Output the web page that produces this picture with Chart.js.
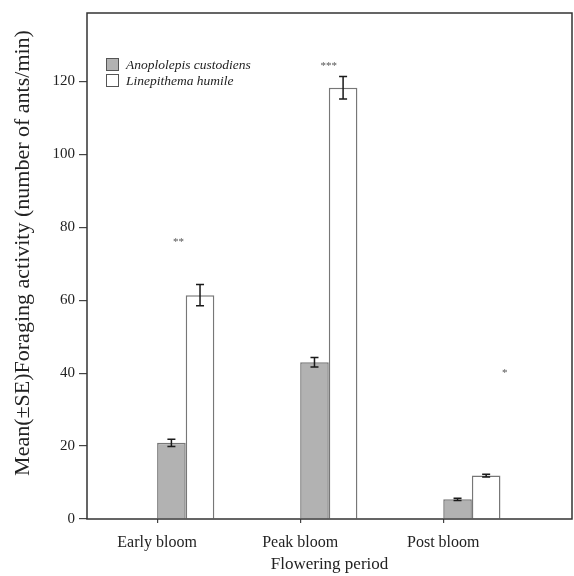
<!DOCTYPE html>
<html>
<head>
<meta charset="utf-8">
<script src="https://cdn.jsdelivr.net/npm/chart.js@4/dist/chart.umd.min.js"></script>
<style>
  html,body{margin:0;padding:0;background:#fff;}
  #wrap{width:574px;height:576px;}
</style>
</head>
<body>
<div id="wrap"><canvas id="c" width="574" height="576"></canvas></div>
<script>
// periods + series
const periods   = ['Early bloom', 'Peak bloom', 'Post bloom'];
const seriesA   = 'Anoplolepis custodiens';
const seriesB   = 'Linepithema humile';
const meanA     = [20.9, 43.0, 5.4];
const seA       = [1.0, 1.3, 0.3];
const meanB     = [61.4, 118.3, 11.9];
const seB       = [2.9, 3.1, 0.4];
const sigLabels = ['**', '***', '*'];
const sigX      = [0.15, 1.2, 2.43];
const sigY      = [75.9, 124.1, 40];
const yTicks    = [0, 20, 40, 60, 80, 100, 120];
const yTitle    = 'Mean(±SE)Foraging activity (number of ants/min)';

const SERIF = '"Liberation Serif", "DejaVu Serif", serif';
const shift = 0.2; // bars sit right of the period tick

const pts = (arr)=> arr.map((v,i)=>({x:i+shift, y:v}));

// error bars, stars, frame, legend, y title
const extras = {
  id:'extras',
  afterDatasetsDraw(chart){
    const {ctx, scales:{x, y}} = chart;
    const errs = [seA, seB];
    ctx.save();
    ctx.strokeStyle = '#1a1a1a';
    ctx.lineWidth = 1.5;
    chart.data.datasets.forEach((ds,di)=>{
      const meta = chart.getDatasetMeta(di);
      meta.data.forEach((bar,i)=>{
        const v = ds.data[i].y, e = errs[di][i];
        const t = y.getPixelForValue(v+e), b = y.getPixelForValue(v-e);
        ctx.beginPath();
        ctx.moveTo(bar.x, t); ctx.lineTo(bar.x, b);
        ctx.moveTo(bar.x-4, t); ctx.lineTo(bar.x+4, t);
        ctx.moveTo(bar.x-4, b); ctx.lineTo(bar.x+4, b);
        ctx.stroke();
      });
    });
    // significance marks
    ctx.fillStyle = '#555';
    ctx.font = '11px ' + SERIF;
    ctx.textAlign = 'center'; ctx.textBaseline = 'middle';
    sigLabels.forEach((s,i)=> ctx.fillText(s, x.getPixelForValue(sigX[i]), y.getPixelForValue(sigY[i])));
    ctx.restore();
  },
  afterDraw(chart){
    const {ctx, chartArea:a} = chart;
    ctx.save();
    ctx.strokeStyle = '#333';
    ctx.lineWidth = 1.5;
    ctx.strokeRect(a.left, a.top, a.right-a.left, a.bottom-a.top);
    // legend
    const items = [[seriesA, '#b2b2b2'], [seriesB, '#ffffff']];
    ctx.font = 'italic 13.5px ' + SERIF;
    ctx.textBaseline = 'middle';
    ctx.textAlign = 'left';
    items.forEach(([txt, col], i)=>{
      const bx = a.left + 19, by = a.top + 45 + i*16;
      ctx.fillStyle = col;
      ctx.fillRect(bx, by, 13, 13);
      ctx.strokeStyle = '#555'; ctx.lineWidth = 1;
      ctx.strokeRect(bx+0.5, by+0.5, 12, 12);
      ctx.fillStyle = '#222';
      ctx.fillText(txt, bx + 20, by + 7);
    });
    // y title (sits a bit above the axis middle in the original)
    ctx.translate(23, 253);
    ctx.rotate(-Math.PI/2);
    ctx.font = '22px ' + SERIF;
    ctx.textAlign = 'center';
    ctx.fillStyle = '#222';
    ctx.fillText(yTitle, 0, 0);
    ctx.restore();
  }
};

new Chart(document.getElementById('c'), {
  type:'bar',
  data:{
    datasets:[
      {label:seriesA, data:pts(meanA), backgroundColor:'#b2b2b2', borderColor:'#777', borderWidth:1.5},
      {label:seriesB, data:pts(meanB), backgroundColor:'#ffffff', borderColor:'#777', borderWidth:1.5}
    ]
  },
  options:{
    responsive:false,
    animation:false,
    layout:{padding:{top:9, right:2, left:0, bottom:0}},
    categoryPercentage:0.4,
    barPercentage:1,
    plugins:{legend:{display:false}, tooltip:{enabled:false}},
    scales:{
      x:{
        type:'linear', min:-0.49, max:2.9, offset:false,
        afterFit(s){ s.height = 57; },
        border:{display:false},
        grid:{drawOnChartArea:false, offset:false, tickLength:4, color:'#444', lineWidth:1.2},
        afterBuildTicks(s){ s.ticks = periods.map((_,i)=>({value:i})); },
        ticks:{
          padding:10, color:'#222', font:{family:SERIF, size:16},
          maxRotation:0, autoSkip:false,
          callback:(v)=> periods[v] ?? ''
        },
        title:{display:true, text:'Flowering period', color:'#222', font:{family:SERIF, size:17}, padding:{top:0, bottom:1}}
      },
      y:{
        min:0, max:138.8,
        afterFit(s){ s.width = 87; },
        border:{display:false},
        grid:{drawOnChartArea:false, tickLength:8, color:'#444', lineWidth:1.2},
        afterBuildTicks(s){ s.ticks = yTicks.map(v=>({value:v})); },
        ticks:{padding:4, color:'#222', font:{family:SERIF, size:15}}
      }
    }
  },
  plugins:[extras]
});
</script>
</body>
</html>
